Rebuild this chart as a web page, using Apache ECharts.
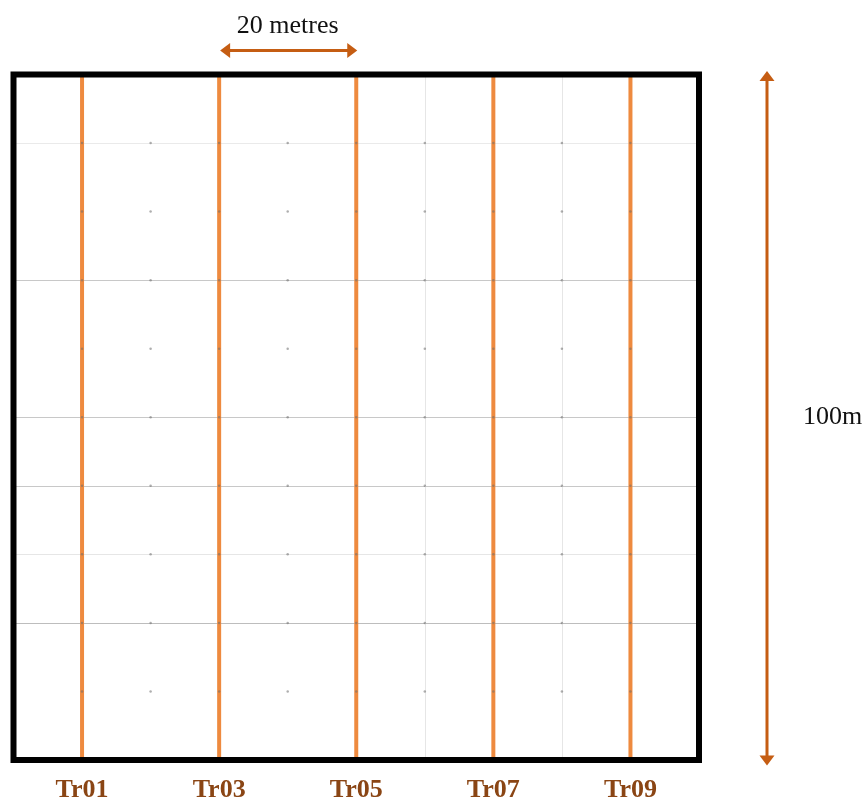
<!DOCTYPE html>
<html>
<head>
<meta charset="utf-8">
<script src="https://cdn.jsdelivr.net/npm/echarts@6/dist/echarts.min.js"></script>
<style>
  html, body { margin: 0; padding: 0; background: #fff; }
  #chart { width: 865px; height: 803px; }
</style>
</head>
<body>
<div id="chart"></div>
<script>
const TRANSECT_NAMES = ["Tr01", "Tr03", "Tr05", "Tr07", "Tr09"];
const TRANSECT_X = [10, 30, 50, 70, 90];
const PLOT_MIN = 0;
const PLOT_MAX = 100;
const GRID_STEP = 10;
const GRID_TICKS = [10, 20, 30, 40, 50, 60, 70, 80, 90, 100];
const SCALE_SPAN = [30, 50];
const SCALE_LABEL = "20 metres";
const SIDE_LABEL = "100m";

const ORANGE = "#ee8a3f";
const ARROW = "#c55d13";
const LABEL_BROWN = "#8a4514";
const SERIF = "'Liberation Serif', 'DejaVu Serif', serif";

// line shades for gridlines 0..100, one per tick
const ROW_SHADES = ["#000", "rgba(0,0,0,0)", "#bdbdbd", "#e6e6e6", "#c8c8c8", "#c8c8c8",
  "rgba(0,0,0,0)", "#c8c8c8", "rgba(0,0,0,0)", "#eaeaea", "#000"];
const COL_SHADES = ["#000", "#eaeaea", "rgba(0,0,0,0)", "#eaeaea", "rgba(0,0,0,0)", "#eaeaea",
  "#e6e6e6", "#eaeaea", "#e6e6e6", "#eaeaea", "#000"];

function intersections() {
  const points = [];
  GRID_TICKS.forEach((x) => {
    GRID_TICKS.slice(0, -1).forEach((y) => points.push([x, y]));
  });
  return points;
}

const chart = echarts.init(document.getElementById("chart"));

const transectSeries = TRANSECT_X.map((x, i) => ({
  name: TRANSECT_NAMES[i],
  type: "line",
  data: [[x, PLOT_MIN], [x, PLOT_MAX]],
  symbol: "none",
  z: 3,
  lineStyle: { color: ORANGE, width: 4 },
  silent: true,
}));

chart.setOption({
  animation: false,
  grid: {
    left: 13.5, right: 166, top: 74.5, bottom: 42.5,
    show: true, z: 10,
    borderColor: "#000", borderWidth: 6,
    backgroundColor: "rgba(0,0,0,0)",
  },
  xAxis: {
    type: "value", min: PLOT_MIN, max: PLOT_MAX, interval: GRID_STEP,
    axisLine: { show: false },
    axisTick: { show: false },
    splitLine: { show: true, lineStyle: { color: COL_SHADES, width: 1 } },
    axisLabel: {
      margin: 17,
      color: LABEL_BROWN,
      fontFamily: SERIF,
      fontSize: 26,
      fontWeight: 600,
      formatter: (v) => {
        const idx = TRANSECT_X.indexOf(v);
        return idx >= 0 ? TRANSECT_NAMES[idx] : "";
      },
    },
  },
  yAxis: {
    type: "value", min: PLOT_MIN, max: PLOT_MAX, interval: GRID_STEP,
    axisLine: { show: false },
    axisTick: { show: false },
    axisLabel: { show: false },
    splitLine: { show: true, lineStyle: { color: ROW_SHADES, width: 1 } },
  },
  series: [
    ...transectSeries,
    {
      type: "scatter",
      data: intersections(),
      symbolSize: 2.5,
      z: 4,
      silent: true,
      itemStyle: { color: "rgba(110,110,110,0.7)" },
    },
  ],
});

function toPx(point) {
  return chart.convertToPixel({ gridIndex: 0 }, point);
}

function arrowHead(tip, dir) {
  // dir: "left" | "right" | "up" | "down"
  const len = 10;
  const half = 7.5;
  const [x, y] = tip;
  if (dir === "left") return [[x, y], [x + len, y - half], [x + len, y + half]];
  if (dir === "right") return [[x, y], [x - len, y - half], [x - len, y + half]];
  if (dir === "up") return [[x, y], [x - half, y + len], [x + half, y + len]];
  return [[x, y], [x - half, y - len], [x + half, y - len]];
}

const spanLeft = toPx([SCALE_SPAN[0], PLOT_MAX]);
const spanRight = toPx([SCALE_SPAN[1], PLOT_MAX]);
const topY = spanLeft[1] - 24;
const plotTop = toPx([PLOT_MAX, PLOT_MAX]);
const plotBottom = toPx([PLOT_MAX, PLOT_MIN]);
const sideX = plotTop[0] + 68;
const midY = toPx([PLOT_MAX, (PLOT_MIN + PLOT_MAX) / 2])[1];

chart.setOption({
  graphic: [
    {
      type: "line",
      shape: { x1: spanLeft[0] + 6, y1: topY, x2: spanRight[0] - 6, y2: topY },
      style: { stroke: ARROW, lineWidth: 3 },
    },
    { type: "polygon", shape: { points: arrowHead([spanLeft[0] + 1, topY], "left") }, style: { fill: ARROW } },
    { type: "polygon", shape: { points: arrowHead([spanRight[0] + 1, topY], "right") }, style: { fill: ARROW } },
    {
      type: "text",
      x: (spanLeft[0] + spanRight[0]) / 2,
      y: topY - 11,
      style: {
        text: SCALE_LABEL, fill: "#111", font: "500 26px " + SERIF,
        align: "center", verticalAlign: "bottom",
      },
    },
    {
      type: "line",
      shape: { x1: sideX, y1: plotTop[1] + 4, x2: sideX, y2: plotBottom[1] - 2 },
      style: { stroke: ARROW, lineWidth: 3 },
    },
    { type: "polygon", shape: { points: arrowHead([sideX, plotTop[1] - 3.5], "up") }, style: { fill: ARROW } },
    { type: "polygon", shape: { points: arrowHead([sideX, plotBottom[1] + 5.5], "down") }, style: { fill: ARROW } },
    {
      type: "text",
      x: sideX + 36,
      y: midY,
      style: {
        text: SIDE_LABEL, fill: "#111", font: "26px " + SERIF,
        align: "left", verticalAlign: "middle",
      },
    },
  ],
});
</script>
</body>
</html>
